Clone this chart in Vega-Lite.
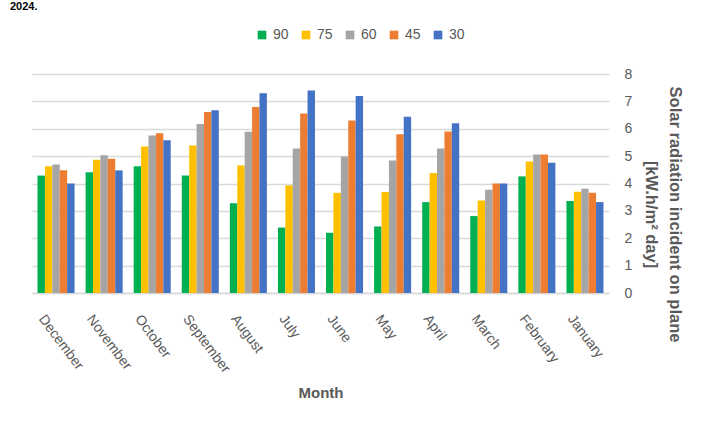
{
  "$schema": "https://vega.github.io/schema/vega-lite/v6.json",
  "width": 577,
  "height": 219,
  "autosize": {"type": "none"},
  "padding": {"left": 32, "top": 74, "right": 94, "bottom": 131},
  "background": "white",
  "title": {
    "text": "2024.",
    "anchor": "start",
    "frame": "group",
    "dx": -22,
    "offset": 16,
    "fontSize": 11,
    "fontWeight": "bold",
    "color": "black",
    "font": "Liberation Sans"
  },
  "data": {
    "values": [
      {"month": "December", "tilt": "90", "value": 4.29},
      {"month": "December", "tilt": "75", "value": 4.63},
      {"month": "December", "tilt": "60", "value": 4.69},
      {"month": "December", "tilt": "45", "value": 4.48},
      {"month": "December", "tilt": "30", "value": 4.0},
      {"month": "November", "tilt": "90", "value": 4.41},
      {"month": "November", "tilt": "75", "value": 4.87},
      {"month": "November", "tilt": "60", "value": 5.03},
      {"month": "November", "tilt": "45", "value": 4.9},
      {"month": "November", "tilt": "30", "value": 4.48},
      {"month": "October", "tilt": "90", "value": 4.63},
      {"month": "October", "tilt": "75", "value": 5.35},
      {"month": "October", "tilt": "60", "value": 5.75},
      {"month": "October", "tilt": "45", "value": 5.84},
      {"month": "October", "tilt": "30", "value": 5.58},
      {"month": "September", "tilt": "90", "value": 4.29},
      {"month": "September", "tilt": "75", "value": 5.39},
      {"month": "September", "tilt": "60", "value": 6.17},
      {"month": "September", "tilt": "45", "value": 6.61},
      {"month": "September", "tilt": "30", "value": 6.68},
      {"month": "August", "tilt": "90", "value": 3.28},
      {"month": "August", "tilt": "75", "value": 4.66},
      {"month": "August", "tilt": "60", "value": 5.89},
      {"month": "August", "tilt": "45", "value": 6.79},
      {"month": "August", "tilt": "30", "value": 7.3},
      {"month": "July", "tilt": "90", "value": 2.39},
      {"month": "July", "tilt": "75", "value": 3.93},
      {"month": "July", "tilt": "60", "value": 5.28},
      {"month": "July", "tilt": "45", "value": 6.56},
      {"month": "July", "tilt": "30", "value": 7.4},
      {"month": "June", "tilt": "90", "value": 2.2},
      {"month": "June", "tilt": "75", "value": 3.66},
      {"month": "June", "tilt": "60", "value": 4.99},
      {"month": "June", "tilt": "45", "value": 6.3},
      {"month": "June", "tilt": "30", "value": 7.2},
      {"month": "May", "tilt": "90", "value": 2.43},
      {"month": "May", "tilt": "75", "value": 3.69},
      {"month": "May", "tilt": "60", "value": 4.84},
      {"month": "May", "tilt": "45", "value": 5.8},
      {"month": "May", "tilt": "30", "value": 6.44},
      {"month": "April", "tilt": "90", "value": 3.32},
      {"month": "April", "tilt": "75", "value": 4.38},
      {"month": "April", "tilt": "60", "value": 5.28},
      {"month": "April", "tilt": "45", "value": 5.9},
      {"month": "April", "tilt": "30", "value": 6.2},
      {"month": "March", "tilt": "90", "value": 2.81},
      {"month": "March", "tilt": "75", "value": 3.38},
      {"month": "March", "tilt": "60", "value": 3.77},
      {"month": "March", "tilt": "45", "value": 4.0},
      {"month": "March", "tilt": "30", "value": 4.0},
      {"month": "February", "tilt": "90", "value": 4.26},
      {"month": "February", "tilt": "75", "value": 4.8},
      {"month": "February", "tilt": "60", "value": 5.06},
      {"month": "February", "tilt": "45", "value": 5.06},
      {"month": "February", "tilt": "30", "value": 4.76},
      {"month": "January", "tilt": "90", "value": 3.36},
      {"month": "January", "tilt": "75", "value": 3.7},
      {"month": "January", "tilt": "60", "value": 3.81},
      {"month": "January", "tilt": "45", "value": 3.66},
      {"month": "January", "tilt": "30", "value": 3.32}
    ]
  },
  "mark": {"type": "bar"},
  "encoding": {
    "x": {
      "field": "month",
      "type": "nominal",
      "sort": null,
      "scale": {"paddingInner": 0.23, "paddingOuter": 0.115},
      "axis": {
        "title": "Month",
        "labelAngle": 53,
        "labelAlign": "left",
        "labelBaseline": "top",
        "labelPadding": 19,
        "labelOffset": -9,
        "labelFontSize": 14,
        "ticks": false,
        "domainColor": "#D9D9D9",
        "domainWidth": 1.5,
        "titlePadding": 10,
        "titleFontSize": 15
      }
    },
    "xOffset": {
      "field": "tilt",
      "type": "nominal",
      "sort": ["90", "75", "60", "45", "30"]
    },
    "y": {
      "field": "value",
      "type": "quantitative",
      "scale": {"domain": [0, 8]},
      "axis": {
        "orient": "right",
        "title": ["Solar radiation incident on plane", "[kW.h/m² day]"],
        "titleAngle": 90,
        "titleFontSize": 16.5,
        "titleLineHeight": 24,
        "titlePadding": 11,
        "titleY": 140,
        "titleAlign": "center",
        "values": [0, 1, 2, 3, 4, 5, 6, 7, 8],
        "labelOverlap": false,
        "labelPadding": 19,
        "labelAlign": "center",
        "labelFontSize": 14,
        "ticks": false,
        "domain": false,
        "grid": true,
        "gridColor": "#D9D9D9",
        "gridWidth": 1.5
      }
    },
    "color": {
      "field": "tilt",
      "type": "nominal",
      "title": null,
      "sort": ["90", "75", "60", "45", "30"],
      "scale": {
        "domain": ["90", "75", "60", "45", "30"],
        "range": ["#00B050", "#FFC000", "#A5A5A5", "#ED7D31", "#4472C4"]
      },
      "legend": {
        "orient": "none",
        "legendX": 223,
        "legendY": -46,
        "direction": "horizontal",
        "symbolType": "square",
        "symbolSize": 75,
        "symbolStrokeWidth": 0,
        "labelOffset": 4,
        "columnPadding": 10
      }
    }
  },
  "config": {
    "font": "Liberation Sans",
    "view": {"stroke": null},
    "axis": {
      "labelFont": "Liberation Sans",
      "labelFontSize": 13,
      "labelColor": "#595959",
      "titleFont": "Liberation Sans",
      "titleFontSize": 14,
      "titleFontWeight": "bold",
      "titleColor": "#595959"
    },
    "legend": {
      "labelFont": "Liberation Sans",
      "labelFontSize": 14,
      "labelColor": "#595959"
    }
  }
}
